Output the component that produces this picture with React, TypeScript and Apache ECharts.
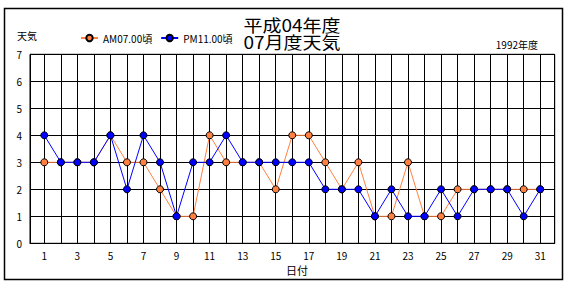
import React, { useEffect, useRef } from "react";
import * as echarts from "echarts";

const days = Array.from({ length: 31 }, (_, i) => i + 1);
const amValues = [3, 3, 3, 3, 4, 3, 3, 2, 1, 1, 4, 3, 3, 3, 2, 4, 4, 3, 2, 3, 1, 1, 3, 1, 1, 2, 2, 2, 2, 2, 2];
const pmValues = [4, 3, 3, 3, 4, 2, 4, 3, 1, 3, 3, 4, 3, 3, 3, 3, 3, 2, 2, 2, 1, 2, 1, 1, 2, 1, 2, 2, 2, 1, 2];
const seriesNames = ["AM07.00頃", "PM11.00頃"];
const titleLines = ["平成04年度", "07月度天気"];
const yAxisTitle = "天気";
const xAxisTitle = "日付";
const yearLabel = "1992年度";

const FONT = '"Noto Sans CJK JP", "Noto Sans", sans-serif';

export default function App() {
  const ref = useRef<HTMLDivElement>(null);
  useEffect(() => {
    if (!ref.current) return;
    const chart = echarts.init(ref.current, null, { renderer: "svg" });
    const isInt = (v: number) => Math.abs(v - Math.round(v)) < 1e-6;
    const titleY = [24.3, 41.7];
    chart.setOption({
      animation: false,
      backgroundColor: "#ffffff",
      textStyle: { fontFamily: FONT },
      grid: {
        left: 30,
        right: 15.3,
        top: 54.3,
        bottom: 46.7,
        show: true,
        borderColor: "#000",
        borderWidth: 1,
        backgroundColor: "transparent",
      },
      legend: {
        left: 75,
        top: 28,
        itemWidth: 17,
        itemHeight: 8,
        itemGap: 8,
        textStyle: { fontSize: 10, color: "#000", fontFamily: FONT },
        data: seriesNames,
      },
      xAxis: {
        type: "value",
        min: 0.135,
        max: 31.875,
        splitNumber: 31,
        minInterval: 1,
        maxInterval: 1,
        axisLine: { show: true, lineStyle: { color: "#000", width: 1 } },
        axisTick: { show: false },
        splitLine: { show: true, lineStyle: { color: "#000", width: 1 } },
        axisLabel: {
          color: "#000",
          fontSize: 10,
          margin: 7,
          showMinLabel: true,
          showMaxLabel: true,
          formatter: (v: number) => (isInt(v) && Math.round(v) % 2 === 1 ? String(Math.round(v)) : ""),
        },
      },
      yAxis: {
        type: "value",
        min: 0,
        max: 7,
        interval: 1,
        axisLine: { show: true, lineStyle: { color: "#000", width: 1 } },
        axisTick: { show: false },
        splitLine: { show: true, lineStyle: { color: "#000", width: 1 } },
        axisLabel: { color: "#000", fontSize: 10, margin: 8 },
      },
      series: [
        {
          name: seriesNames[0],
          type: "line",
          data: days.map((d, i) => [d, amValues[i]]),
          symbol: "circle",
          symbolSize: 7,
          lineStyle: { color: "#FF8040", width: 1 },
          itemStyle: { color: "#FF8040", borderColor: "#000", borderWidth: 1 },
          z: 3,
        },
        {
          name: seriesNames[1],
          type: "line",
          data: days.map((d, i) => [d, pmValues[i]]),
          symbol: "circle",
          symbolSize: 7,
          lineStyle: { color: "#0000FF", width: 1 },
          itemStyle: { color: "#0000FF", borderColor: "#000", borderWidth: 1 },
          z: 4,
        },
      ],
      graphic: [
        {
          type: "rect",
          shape: { x: 4.5, y: 8.5, width: 558, height: 271 },
          style: { fill: "none", stroke: "#000", lineWidth: 1.5 },
          silent: true,
        },
        ...titleLines.map((t, i) => ({
          type: "text",
          x: 292,
          y: titleY[i],
          scaleX: 1.12,
          style: {
            text: t,
            x: 0,
            y: 0,
            align: "center",
            verticalAlign: "middle",
            font: `17px ${FONT}`,
            fill: "#000",
          },
        })),
        {
          type: "text",
          style: {
            text: yAxisTitle,
            x: 17,
            y: 35,
            align: "left",
            verticalAlign: "middle",
            font: `10px ${FONT}`,
            fill: "#000",
          },
        },
        {
          type: "text",
          style: {
            text: yearLabel,
            x: 538,
            y: 44,
            align: "right",
            verticalAlign: "middle",
            font: `10px ${FONT}`,
            fill: "#000",
          },
        },
        {
          type: "text",
          style: {
            text: xAxisTitle,
            x: 297,
            y: 269.5,
            align: "center",
            verticalAlign: "middle",
            font: `11px ${FONT}`,
            fill: "#000",
          },
        },
      ],
    });
    return () => chart.dispose();
  }, []);
  return (
    <div
      ref={ref}
      style={{ position: "fixed", left: 0, top: 0, width: 570, height: 290, background: "#fff" }}
    />
  );
}
